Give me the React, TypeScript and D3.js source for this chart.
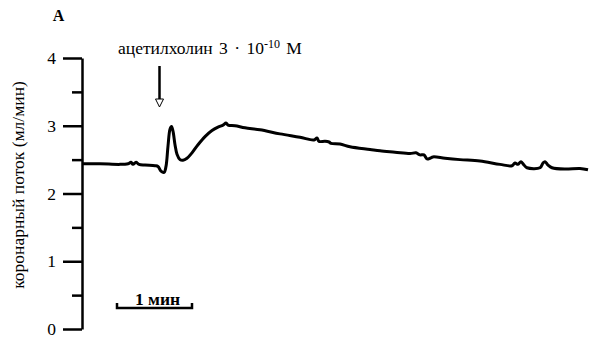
import React, { useEffect, useRef } from "react";
import * as d3 from "d3";

// time (s) of each sample of the coronary flow trace
const times = [
  0, 14.4, 30.4, 36.8, 39.2, 40.8, 43.2, 45.6, 50.4, 58.4, 60.8, 63.2, 65.6, 67.2,
  68.8, 70.4, 71.6, 72.8, 74.4, 76, 78.4, 80.8, 84, 88, 92.8, 98.4, 104,
  108.8, 112.8, 115.2, 116.8, 122.4, 130.4, 142.4, 158.4, 174.4, 185.6, 188,
  189.6, 194.4, 197.6, 199.2, 206.4, 214.4, 230.4, 238.4, 250.4, 262.4, 267.2,
  270.4, 273.6, 276, 278.4, 280.8, 290.4, 302.4, 318.4, 334.4, 344, 346.4,
  348.8, 351.2, 353.6, 356, 366.4, 368.8, 370.4, 372.8, 376, 386.4, 398.4, 404.8,
];
// coronary flow, ml/min
const flow = [
  2.44, 2.44, 2.43, 2.44, 2.46, 2.43, 2.46, 2.43, 2.42, 2.41, 2.4, 2.33, 2.31, 2.4,
  2.7, 2.95, 2.99, 2.92, 2.72, 2.58, 2.5, 2.49, 2.52, 2.6, 2.72, 2.84, 2.93,
  2.98, 3.01, 3.04, 3.01, 3.0, 2.97, 2.94, 2.88, 2.83, 2.79, 2.82,
  2.77, 2.77, 2.76, 2.74, 2.73, 2.69, 2.65, 2.63, 2.61, 2.59, 2.6,
  2.57, 2.57, 2.51, 2.52, 2.54, 2.52, 2.5, 2.48, 2.43, 2.41, 2.45,
  2.43, 2.47, 2.42, 2.38, 2.38, 2.45, 2.47, 2.42, 2.38, 2.36, 2.37, 2.35,
];
const majorTicks = [0, 1, 2, 3, 4];
const minorTicks = [0.5, 1.5, 2.5, 3.5];
const injectionTime = 62; // s
const scaleBarStart = 28; // s
const scaleBarLength = 60; // s

const font = "Liberation Serif";

const App = () => {
  const svgRef = useRef<SVGSVGElement>(null);

  useEffect(() => {
    const width = 592;
    const height = 338;
    const svg = d3.select(svgRef.current);
    svg.selectAll("*").remove();
    svg.attr("width", width).attr("height", height).attr("font-family", font);

    const x = d3.scaleLinear().domain([0, 406.4]).range([82, 590]);
    const y = d3.scaleLinear().domain([0, 4]).range([329, 58]);

    // panel letter
    svg
      .append("text")
      .attr("x", 58.5)
      .attr("y", 21)
      .attr("text-anchor", "middle")
      .attr("font-family", font)
      .attr("font-weight", "bold")
      .attr("font-size", 16)
      .text("А");

    // y axis
    const axisG = svg.append("g").attr("transform", "translate(82,0)");
    axisG.call(
      d3
        .axisLeft(y)
        .tickValues(majorTicks)
        .tickSize(19)
        .tickSizeOuter(0)
        .tickPadding(7)
        .tickFormat(d3.format("d"))
    );
    axisG.attr("font-family", font).attr("font-size", 17.5);
    axisG.select(".domain").attr("stroke-width", 2.5);
    axisG.selectAll(".tick line").attr("stroke-width", 2.5);
    axisG.selectAll(".tick text").attr("fill", "#000");

    const minorG = svg.append("g").attr("transform", "translate(82,0)");
    minorG.call(d3.axisLeft(y).tickValues(minorTicks).tickSize(10).tickSizeOuter(0).tickFormat(() => ""));
    minorG.select(".domain").remove();
    minorG.selectAll(".tick line").attr("stroke-width", 2.5);

    // y label
    svg
      .append("text")
      .attr("transform", "translate(24,185) rotate(-90)")
      .attr("text-anchor", "middle")
      .attr("font-family", font)
      .attr("font-size", 17.5)
      .text("коронарный поток (мл/мин)");

    // trace
    const pts: [number, number][] = times.map((t, i) => [t, flow[i]]);
    const line = d3
      .line<[number, number]>()
      .x((d) => x(d[0]))
      .y((d) => y(d[1]))
      .curve(d3.curveCatmullRom.alpha(0.5));
    svg
      .append("path")
      .datum(pts)
      .attr("fill", "none")
      .attr("stroke", "#000")
      .attr("stroke-width", 3)
      .attr("stroke-linejoin", "round")
      .attr("d", line);

    // annotation
    const ann = svg
      .append("text")
      .attr("x", 118)
      .attr("y", 54)
      .attr("font-family", font)
      .attr("font-size", 17.5)
      .attr("word-spacing", 2);
    ann.append("tspan").text("ацетилхолин 3 · 10");
    ann.append("tspan").attr("dy", -6).attr("font-size", 12).text("-10");
    ann.append("tspan").attr("dy", 6).text(" М");

    const ax = x(injectionTime);
    svg
      .append("line")
      .attr("x1", ax)
      .attr("x2", ax)
      .attr("y1", 66)
      .attr("y2", 99)
      .attr("stroke", "#000")
      .attr("stroke-width", 2.5);
    svg
      .append("path")
      .attr("d", `M${ax - 4},99 L${ax + 4},99 L${ax},107 Z`)
      .attr("fill", "#fff")
      .attr("stroke", "#000")
      .attr("stroke-width", 1);

    // scale bar
    const sx0 = x(scaleBarStart);
    const sx1 = x(scaleBarStart + scaleBarLength);
    svg
      .append("path")
      .attr("d", `M${sx0},303 L${sx0},308 L${sx1},308 L${sx1},303`)
      .attr("fill", "none")
      .attr("stroke", "#000")
      .attr("stroke-width", 2.5);
    svg
      .append("text")
      .attr("x", (sx0 + sx1) / 2 + 3)
      .attr("y", 305)
      .attr("text-anchor", "middle")
      .attr("font-family", font)
      .attr("font-weight", "bold")
      .attr("font-size", 17.5)
      .text("1 мин");
  }, []);

  return (
    <div style={{ position: "absolute", left: 0, top: 0 }}>
      <svg ref={svgRef} />
    </div>
  );
};

export default App;
